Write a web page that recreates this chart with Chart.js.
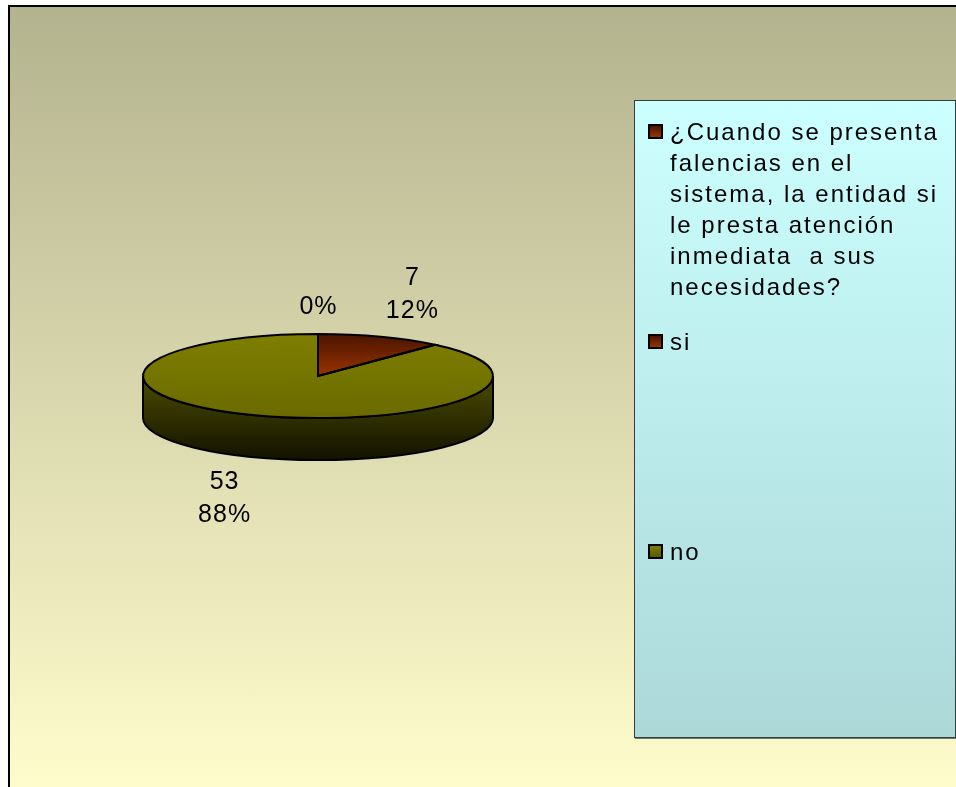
<!DOCTYPE html>
<html>
<head>
<meta charset="utf-8">
<script src="https://cdn.jsdelivr.net/npm/chart.js@4.4.0/dist/chart.umd.min.js"></script>
<style>
  html, body { margin: 0; padding: 0; width: 956px; height: 787px; overflow: hidden; background: #fff; }
  #frame { position: absolute; left: 8px; top: 5px; width: 960px; height: 782px;
           border-left: 2px solid #000; border-top: 2px solid #000;
           background: linear-gradient(#b3b38f, #fffccc); }
  #chart1 { position: absolute; left: 0; top: 0; }
  #legend { position: absolute; left: 634px; top: 100px; width: 320px; height: 636px;
            border: 1px solid #2f3f3f; box-shadow: 1px 1px 0 #6a7a7a;
            background: linear-gradient(#ccffff, #acd8d8);
            font-family: "Liberation Sans", Arial, sans-serif; font-size: 24px;
            letter-spacing: 2px; color: #000; }
  .item { position: absolute; left: 35px; width: 285px; line-height: 31px; white-space: pre-wrap; }
  .mark { position: absolute; left: -22px; top: 8px; width: 11px; height: 11px; border: 2px solid #000; }
</style>
</head>
<body>
<div id="frame"></div>
<canvas id="chart1" width="956" height="787"></canvas>
<div id="legend"></div>
<script>
// data
const categories = ['¿Cuando se presenta falencias en el sistema, la entidad si le presta atención inmediata  a sus necesidades?', 'si', 'no'];
const respuestas = [0, 7, 53];
const valueLabels = ['', '7', '53'];
const pctLabels = ['0%', '12%', '88%'];

// looks
const topColors = [['#4a1400', '#9a3300'], ['#4a1400', '#9a3300'], ['#7e7e00', '#6a6a00']];
const sideColors = [['#4a1a00', '#140500'], ['#4a1a00', '#140500'], ['#4c4c00', '#121200']];
const legendTops = [15, 225, 435];
const tilt = 0.24, depth = 42;

function topFill(context) {
    const chart = context.chart;
    const area = chart.chartArea;
    const i = context.dataIndex;
    if (!area) return topColors[i][1];
    const cy = (area.top + area.bottom) / 2;
    const r = Math.min(area.right - area.left, area.bottom - area.top) / 2;
    const g = chart.ctx.createLinearGradient(0, cy - r, 0, i < 2 ? cy : cy + r);
    g.addColorStop(0, topColors[i][0]);
    g.addColorStop(1, topColors[i][1]);
    return g;
}

const pie3d = {
    id: 'pie3d',
    beforeDatasetsDraw(chart) {
        const ctx = chart.ctx;
        const arcs = chart.getDatasetMeta(0).data;
        const cx = arcs[0].x, cy = arcs[0].y, r = arcs[0].outerRadius, ry = r * tilt;
        ctx.save();
        ctx.lineWidth = 2;
        ctx.strokeStyle = '#000';
        arcs.forEach((arc, i) => {
            let s = arc.startAngle % (2 * Math.PI);
            if (s < 0) s += 2 * Math.PI;
            const e = s + (arc.endAngle - arc.startAngle);
            [[0, Math.PI], [2 * Math.PI, 3 * Math.PI]].forEach(([lo, hi]) => {
                const a = Math.max(s, lo), b = Math.min(e, hi);
                if (b <= a) return;
                const g = ctx.createLinearGradient(0, cy, 0, cy + ry + depth);
                g.addColorStop(0, sideColors[i][0]);
                g.addColorStop(1, sideColors[i][1]);
                ctx.beginPath();
                ctx.ellipse(cx, cy, r, ry, 0, a, b);
                ctx.ellipse(cx, cy + depth, r, ry, 0, b, a, true);
                ctx.closePath();
                ctx.fillStyle = g;
                ctx.fill();
                ctx.stroke();
            });
        });
        ctx.restore();
        // squash the top of the pie
        ctx.save();
        ctx.translate(cx, cy);
        ctx.scale(1, tilt);
        ctx.translate(-cx, -cy);
    },
    afterDatasetsDraw(chart) {
        const ctx = chart.ctx;
        ctx.restore();
        const arcs = chart.getDatasetMeta(0).data;
        const cx = arcs[0].x, cy = arcs[0].y, r = arcs[0].outerRadius, ry = r * tilt;
        ctx.save();
        ctx.lineWidth = 2;
        ctx.strokeStyle = '#000';
        arcs.forEach(arc => {
            if (arc.endAngle - arc.startAngle <= 0) return;
            ctx.beginPath();
            ctx.moveTo(cx, cy);
            ctx.ellipse(cx, cy, r, ry, 0, arc.startAngle, arc.endAngle);
            ctx.closePath();
            ctx.stroke();
        });
        // data labels
        ctx.font = '25px "Liberation Sans", Arial, sans-serif';
        ctx.letterSpacing = '1px';
        ctx.fillStyle = '#000';
        ctx.textAlign = 'center';
        ctx.textBaseline = 'alphabetic';
        arcs.forEach((arc, i) => {
            const mid = (arc.startAngle + arc.endAngle) / 2;
            const lines = [valueLabels[i], pctLabels[i]].filter(Boolean);
            const px = cx + (r + 87) * Math.cos(mid) + 0.5;
            const sn = Math.sin(mid);
            let base;
            if (sn <= 0) base = cy + 62 * sn - 33 * (lines.length - 1);
            else base = cy + depth + 57 * sn + 18;
            lines.forEach((t, k) => ctx.fillText(t, px, base + 33 * k));
        });
        ctx.restore();
    }
};

const chart = new Chart(document.getElementById('chart1'), {
    type: 'pie',
    data: {
        labels: categories,
        datasets: [{
            data: respuestas,
            backgroundColor: topFill,
            borderWidth: 0
        }]
    },
    options: {
        responsive: false,
        animation: false,
        layout: { padding: { left: 143, right: 463, top: 201, bottom: 236 } },
        plugins: { legend: { display: false }, tooltip: { enabled: false } }
    },
    plugins: [pie3d]
});

// legend box built from the chart labels
const legend = document.getElementById('legend');
chart.data.labels.forEach((label, i) => {
    const item = document.createElement('div');
    item.className = 'item';
    item.style.top = legendTops[i] + 'px';
    item.textContent = label;
    const mark = document.createElement('div');
    mark.className = 'mark';
    mark.style.background = 'linear-gradient(' + topColors[i][0] + ', ' + topColors[i][1] + ')';
    if (i === 2) mark.style.background = 'linear-gradient(#7e7e00, #5a5a00)';
    item.appendChild(mark);
    legend.appendChild(item);
});
</script>
</body>
</html>
